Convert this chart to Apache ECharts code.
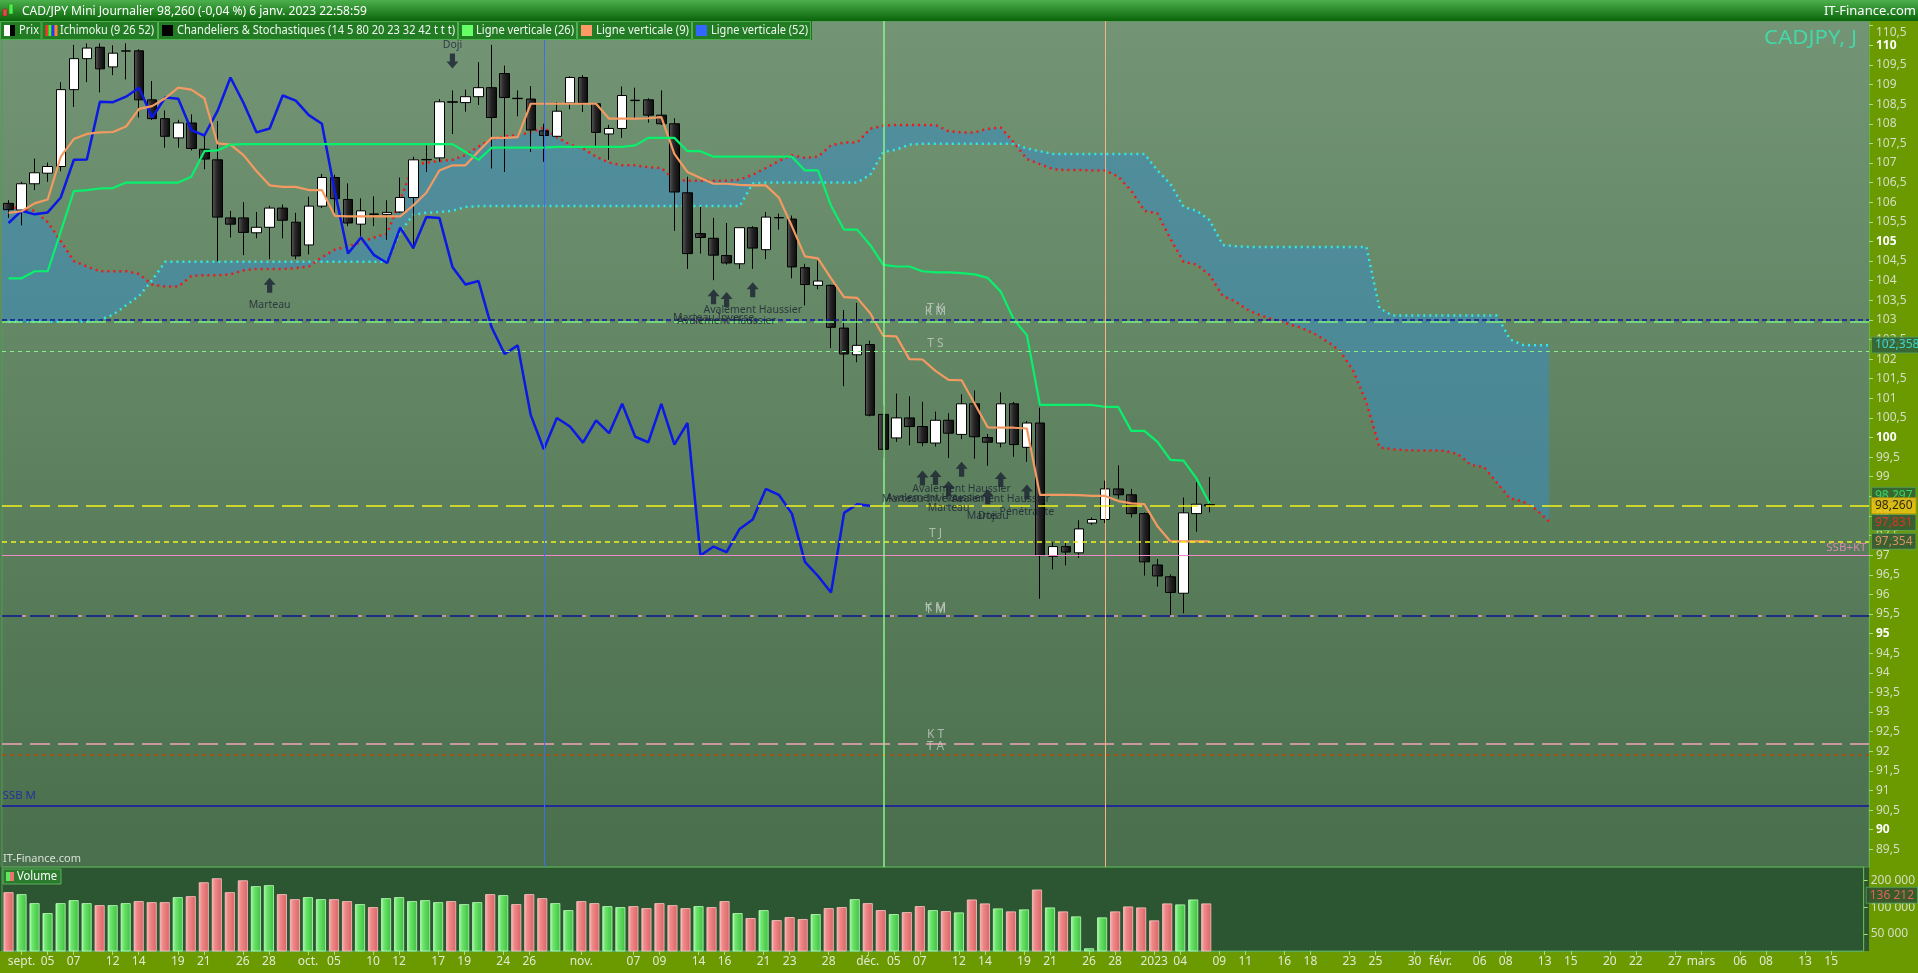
<!DOCTYPE html>
<html>
<head>
<meta charset="utf-8">
<title>CAD/JPY Mini Journalier</title>
<script src="https://cdn.jsdelivr.net/npm/echarts@6.0.0/dist/echarts.min.js"></script>
<style>
html,body{margin:0;padding:0;background:#6a9900;overflow:hidden;}
#chart{width:1918px;height:973px;}
</style>
</head>
<body>
<div id="chart"></div>
<script>
// ---------------- DATA ----------------
const opens = [105.97,105.80,106.47,106.74,106.91,108.87,109.66,109.95,109.45,109.85,
109.86,108.61,108.13,107.64,108.02,107.35,107.08,105.60,105.60,105.22,
105.36,105.85,105.49,104.91,105.90,106.63,106.07,105.44,105.70,105.69,
105.75,106.12,107.08,107.13,108.56,108.54,108.69,108.92,109.28,108.65,
108.63,107.82,107.68,108.53,109.18,108.51,107.74,107.88,108.60,108.61,
108.22,108.00,106.24,105.20,105.08,104.64,104.43,105.35,104.79,105.61,
105.57,104.33,103.88,103.88,102.79,102.11,102.37,100.59,99.99,100.50,
100.28,99.86,100.44,100.08,100.86,100.00,99.86,100.86,99.75,100.37,
96.97,97.22,97.06,97.82,97.91,98.69,98.54,98.06,96.75,96.45,
96.03,98.06,98.29];
const highs = [106.05,106.52,107.11,107.01,109.06,110.01,110.05,110.05,110.00,110.05,
109.90,109.09,108.34,108.10,108.24,107.71,108.07,105.78,106.00,105.75,
105.91,105.94,105.73,106.14,106.72,106.70,106.48,106.10,106.15,106.05,
106.63,107.16,107.45,108.63,108.85,108.87,109.57,110.01,109.48,108.85,
108.96,108.00,108.55,109.21,109.24,108.53,107.97,108.95,108.92,108.65,
108.85,108.14,106.65,105.88,105.60,105.47,105.36,105.39,105.75,105.71,
105.66,104.43,104.51,103.90,103.25,103.43,102.47,100.81,101.12,101.05,
100.91,100.66,100.62,101.10,101.20,100.09,101.15,100.91,100.42,100.76,
97.33,97.31,97.89,97.96,98.90,99.29,98.69,98.09,96.90,96.51,
98.47,98.86,98.99];
const lows = [105.60,105.41,106.31,106.52,106.79,108.43,109.06,108.80,109.24,109.13,
108.16,108.10,107.39,107.39,107.32,106.84,104.50,105.10,104.65,105.08,
104.55,105.08,104.55,104.67,105.85,105.65,105.39,105.13,105.39,105.04,
105.73,104.81,106.77,107.03,107.74,108.31,108.48,106.86,106.77,108.19,
107.28,107.03,107.66,108.37,108.30,107.44,107.08,107.64,108.13,108.03,
107.97,105.27,104.30,104.69,104.01,104.41,104.30,104.30,104.55,105.30,
104.06,103.37,103.78,102.28,101.31,101.92,100.54,99.48,99.89,99.80,
99.78,99.77,99.48,99.96,99.46,99.28,99.75,99.51,99.38,95.89,
96.64,96.74,96.93,97.77,97.82,98.44,97.96,96.48,96.20,95.45,
95.52,97.60,98.09];
const closes = [105.81,106.47,106.75,106.91,108.87,109.66,109.93,109.40,109.80,109.86,
108.61,108.13,107.68,108.02,107.37,107.10,105.62,105.44,105.23,105.36,
105.85,105.54,104.63,105.90,106.63,106.09,105.47,105.78,105.69,105.74,
106.12,107.08,107.09,108.56,108.55,108.69,108.92,108.16,108.67,108.64,
107.84,107.70,108.32,109.18,108.53,107.78,107.88,108.72,108.59,108.22,
108.00,106.26,104.69,105.10,104.65,104.45,105.35,104.83,105.62,105.60,
104.35,103.90,103.99,102.81,102.13,102.35,100.57,99.70,100.50,100.28,
99.87,100.44,100.11,100.86,100.02,99.88,100.86,99.82,100.37,96.99,
97.22,97.08,97.67,97.91,98.69,98.54,98.06,96.83,96.47,96.05,
98.08,98.30,98.26];
const volumes = [147600,140200,110900,85600,110900,119900,110900,105300,105300,110900,
116900,113800,113800,129700,133000,191000,212000,147600,201000,172600,
177000,140200,123000,129700,123000,123000,116900,108100,100000,126300,
129700,116900,119900,113800,116900,108100,113800,140200,136600,108100,
140200,126300,110900,92500,116900,110900,102600,100000,102600,97400,
110900,105300,97400,102600,100000,116900,85600,75200,92500,71300,
77100,73300,83400,97400,100000,123000,110900,92500,83400,87800,
102600,92500,90100,87100,121900,110000,96600,89400,94200,158000,
99100,89400,78500,34200,76500,89400,101700,99100,70800,110000,
107200,121900,110000];
// Ichimoku lines
const tenkan = [105.73,105.77,105.97,106.07,107.16,107.61,107.74,107.78,107.79,107.93,
108.38,108.45,108.65,108.92,108.87,108.65,107.50,107.47,107.20,106.79,
106.43,106.39,106.39,106.31,106.31,105.65,105.64,105.64,105.64,105.64,
105.64,105.92,106.24,106.81,106.94,106.94,107.30,107.64,107.64,107.66,
108.51,108.51,108.51,108.51,108.51,108.51,108.13,108.13,108.13,108.14,
108.17,107.23,106.77,106.62,106.47,106.47,106.44,106.43,106.43,106.12,
105.39,104.62,104.57,104.06,103.58,103.56,103.17,102.59,102.58,102.00,
101.99,101.70,101.47,101.46,100.86,100.26,100.25,100.25,100.23,98.54,
98.54,98.54,98.53,98.51,98.51,98.38,98.32,98.30,97.74,97.35,
97.35,97.35,97.35];
const kijun = [104.06,104.06,104.24,104.24,105.25,106.28,106.31,106.35,106.36,106.50,
106.50,106.50,106.50,106.50,106.65,107.30,107.32,107.47,107.48,107.48,
107.48,107.48,107.48,107.48,107.48,107.48,107.48,107.48,107.48,107.48,
107.48,107.48,107.48,107.48,107.48,107.28,107.08,107.39,107.39,107.39,
107.39,107.39,107.41,107.41,107.41,107.41,107.41,107.41,107.45,107.64,
107.64,107.64,107.30,107.30,107.16,107.16,107.16,107.16,107.16,107.16,
107.16,106.81,106.81,105.91,105.30,105.30,104.91,104.40,104.36,104.36,
104.24,104.21,104.21,104.19,104.16,104.07,103.72,103.01,102.61,100.83,
100.83,100.83,100.83,100.83,100.78,100.78,100.17,100.17,99.89,99.43,
99.41,98.95,98.32];
const chikou = [105.47,105.78,105.69,105.74,106.12,107.08,107.09,108.56,108.55,108.69,
108.92,108.16,108.67,108.64,107.84,107.70,108.32,109.18,108.53,107.78,
107.88,108.72,108.59,108.22,108.00,106.26,104.69,105.10,104.65,104.45,
105.35,104.83,105.62,105.60,104.35,103.90,103.99,102.81,102.13,102.35,
100.57,99.70,100.50,100.28,99.87,100.44,100.11,100.86,100.02,99.88,
100.86,99.82,100.37,96.99,97.22,97.08,97.67,97.91,98.69,98.54,
98.06,96.83,96.47,96.05,98.08,98.30,98.26];
const senkouA = [102.95,102.95,102.95,102.95,102.95,102.95,102.95,103.00,103.13,103.37,
103.61,104.01,104.48,104.48,104.48,104.48,104.48,104.48,104.48,104.48,
104.48,104.48,104.48,104.48,104.48,104.48,104.48,104.48,104.48,104.48,
105.25,105.68,105.73,105.75,105.78,105.88,105.90,105.90,105.90,105.90,
105.90,105.90,105.90,105.90,105.90,105.90,105.90,105.90,105.90,105.90,
105.90,105.90,105.90,105.90,105.90,105.90,105.90,106.48,106.50,106.50,
106.50,106.50,106.50,106.50,106.50,106.50,106.70,107.28,107.34,107.47,
107.49,107.49,107.49,107.49,107.49,107.49,107.49,107.49,107.37,107.30,
107.23,107.23,107.23,107.23,107.23,107.23,107.23,107.23,106.81,106.46,
105.88,105.78,105.54,104.91,104.88,104.86,104.86,104.86,104.86,104.86,
104.86,104.86,104.86,104.86,104.86,103.30,103.11,103.11,103.11,103.11,
103.11,103.11,103.11,103.11,103.11,102.50,102.36,102.35,102.35];
const senkouB = [105.87,105.85,105.78,105.49,105.01,104.50,104.36,104.24,104.24,104.24,
104.17,103.90,103.85,103.85,104.12,104.14,104.14,104.16,104.26,104.30,
104.30,104.30,104.32,104.36,104.60,104.79,104.88,104.98,105.10,105.20,
106.05,106.94,107.01,107.05,107.08,107.20,107.42,107.61,107.68,107.71,
107.78,107.90,107.66,107.47,107.37,107.16,107.01,106.94,106.94,106.89,
106.87,106.58,106.55,106.55,106.55,106.55,106.57,106.70,106.87,107.05,
107.20,107.13,107.16,107.45,107.52,107.52,107.87,107.95,107.97,107.97,
107.97,107.97,107.81,107.78,107.78,107.87,107.90,107.52,107.10,106.97,
106.84,106.82,106.82,106.81,106.81,106.65,106.29,105.78,105.71,105.06,
104.48,104.41,104.14,103.61,103.46,103.24,103.10,103.00,102.90,102.80,
102.65,102.45,102.20,101.70,100.90,99.75,99.70,99.68,99.67,99.67,
99.66,99.58,99.30,99.25,98.85,98.45,98.37,98.17,97.86];
// horizontal levels
const levelValues = [103.00,102.95,102.20,98.26,97.354,97.00,95.45,95.45,92.20,91.90,90.60];
const levelKinds  = ['navyDash','greenLong','greenFine','yellowLong','yellowFine','pinkSolid','pinkDots','navyLong','pinkLong','brownDot','navySolid'];
// vertical lines (Ligne verticale 52 / 26 / 9)
const vLineDates = ['2022-10-27','2022-12-02','2022-12-27'];
const vLineKinds = ['blue','green','orange'];
// level labels
const levelLabelText = ['T K','K M','T S','T J','K M','T M','K T','T A'];
const levelLabelY    = [103.30,103.22,102.39,97.56,95.67,95.62,92.42,92.13];
const levelLabelDate = '2022-12-08';
// price tags on the right axis
const tagValues = [102.358,98.297,97.831,97.354,98.260];
const tagTexts  = ['102,358','98,297','97,831','97,354','98,260'];
const volTagValue = 136212;
const volTagText = '136 212';
// candle pattern annotations
const patternDates = ['2022-09-28','2022-11-15','2022-11-16','2022-11-18','2022-12-07','2022-12-08','2022-12-09','2022-12-12','2022-12-14','2022-12-15','2022-12-19'];
const patternArrowY = [103.88,103.59,103.52,103.77,98.97,98.98,98.70,99.19,98.49,98.93,98.61];
const patternTextDates = ['2022-09-28','2022-11-15','2022-11-16','2022-11-18','2022-12-07','2022-12-08','2022-12-09','2022-12-12','2022-12-14','2022-12-14','2022-12-15','2022-12-19'];
const patternTexts = ['Marteau','Marteau Inverse','Avalement Haussier','Avalement Haussier','Marteau Inverse','Avalement Haussier','Marteau','Avalement Haussier','Marteau','Doji','Avalement Haussier','Pénétrante'];
const patternTextY = [103.38,103.05,102.96,103.24,98.42,98.47,98.20,98.70,98.01,98.01,98.44,98.11];
const dojiDate = '2022-10-18', dojiArrowY = 109.60, dojiTextY = 110.02;
// axis ticks
const yTicks = [89.5,90,90.5,91,91.5,92,92.5,93,93.5,94,94.5,95,95.5,96,96.5,97,97.5,98,98.5,99,99.5,100,100.5,101,101.5,102,102.5,103,103.5,104,104.5,105,105.5,106,106.5,107,107.5,108,108.5,109,109.5,110,110.5];
const volTicks = [50000,100000,200000];
const xTickLabels = [['2022-09-01','sept.'],['2022-09-05','05'],['2022-09-07','07'],['2022-09-12','12'],['2022-09-14','14'],['2022-09-19','19'],['2022-09-21','21'],['2022-09-26','26'],['2022-09-28','28'],
['2022-10-03','oct.'],['2022-10-05','05'],['2022-10-10','10'],['2022-10-12','12'],['2022-10-17','17'],['2022-10-19','19'],['2022-10-24','24'],['2022-10-26','26'],
['2022-11-01','nov.'],['2022-11-07','07'],['2022-11-09','09'],['2022-11-14','14'],['2022-11-16','16'],['2022-11-21','21'],['2022-11-23','23'],['2022-11-28','28'],
['2022-12-01','déc.'],['2022-12-05','05'],['2022-12-07','07'],['2022-12-12','12'],['2022-12-14','14'],['2022-12-19','19'],['2022-12-21','21'],['2022-12-26','26'],['2022-12-28','28'],
['2023-01-02','2023'],['2023-01-04','04'],['2023-01-09','09'],['2023-01-11','11'],['2023-01-16','16'],['2023-01-18','18'],['2023-01-23','23'],['2023-01-25','25'],['2023-01-30','30'],
['2023-02-01','févr.'],['2023-02-06','06'],['2023-02-08','08'],['2023-02-13','13'],['2023-02-15','15'],['2023-02-20','20'],['2023-02-22','22'],['2023-02-27','27'],
['2023-03-01','mars'],['2023-03-06','06'],['2023-03-08','08'],['2023-03-13','13'],['2023-03-15','15']];

// trading-day calendar (Mon-Fri) from 31 Aug 2022 to 17 Mar 2023
const categories = [];
(function(){
  let t = Date.UTC(2022,7,31); const end = Date.UTC(2023,2,17);
  while (t <= end) { const d = new Date(t); const wd = d.getUTCDay();
    if (wd !== 0 && wd !== 6) categories.push(d.toISOString().slice(0,10));
    t += 86400000; }
})();

// ---------------- CHART ----------------
const FONT = "'Noto Sans', 'DejaVu Sans', sans-serif";
const LG = echarts.graphic.LinearGradient;
const idx = d => categories.indexOf(d);
const lastIdx = categories.length - 1;
const labelMap = {}; xTickLabels.forEach(p => { labelMap[p[0]] = p[1]; });
const showTick = (i, v) => labelMap[v] !== undefined;

const downGrad = new LG(0,0,1,0,[{offset:0,color:'#5c5c5c'},{offset:0.45,color:'#262626'},{offset:1,color:'#0a0a0a'}]);
const greenGrad = new LG(0,0,1,0,[{offset:0,color:'#b0f8b0'},{offset:0.3,color:'#6be46b'},{offset:1,color:'#3fbf3f'}]);
const redGrad = new LG(0,0,1,0,[{offset:0,color:'#fbb8b8'},{offset:0.3,color:'#ef8a8a'},{offset:1,color:'#d96464'}]);

const candleData = opens.map((o,i) => [o, closes[i], lows[i], highs[i]]);
const volData = volumes.map((v,i) => {
  const up = i === 0 ? closes[0] >= opens[0] : closes[i] >= closes[i-1];
  return {value: Math.log10(v), itemStyle: {color: up ? greenGrad : redGrad, borderColor: up ? '#baffba' : '#ffc4c4', borderWidth: 0.8}};
});

const levelStyle = {
  navyDash:  {color:'#0b1a9c', width:1.5, type:[5,3]},
  greenLong: {color:'#7cf07c', width:1.5, type:[20,8]},
  greenFine: {color:'#88f088', width:1, type:[4,4]},
  yellowLong:{color:'#f2f21e', width:1.5, type:[20,8]},
  yellowFine:{color:'#f2f21e', width:1.5, type:[5,4]},
  pinkSolid: {color:'#f08ac4', width:1.2, type:'solid'},
  pinkDots:  {color:'#f29ab8', width:1.5, type:[4,24], dashOffset:8},
  navyLong:  {color:'#0a1890', width:1.5, type:[20,8]},
  pinkLong:  {color:'#f2a2b8', width:1.5, type:[20,8]},
  brownDot:  {color:'#b04c08', width:1.5, type:[4,4]},
  navySolid: {color:'#1414a8', width:1.5, type:'solid'}
};
const vStyle = {
  blue:  {color:'#3d6ef2', width:1, type:'solid'},
  green: {color:'#8af58a', width:1.5, type:'solid'},
  orange:{color:'#f5b284', width:1, type:'solid'}
};
const tagStyle = [
  {color:'#40f0f0', backgroundColor:'#2c5a40'},
  {color:'#30f070', backgroundColor:'#2c5a36', offset:[9.5,-9]},
  {color:'#ff2a2a', backgroundColor:'#30503a'},
  {color:'#ffa070', backgroundColor:'#30503a'},
  {color:'#000000', backgroundColor:'#f5c518', borderColor:'#c89a00'}
];

const levelLines = levelValues.map((v,i) => ({yAxis: v, lineStyle: levelStyle[levelKinds[i]], label:{show:false}}));
const vLines = vLineDates.map((d,i) => ({xAxis: idx(d), lineStyle: vStyle[vLineKinds[i]], label:{show:false}}));
const tagPoints = tagValues.map((v,i) => ({
  value: [lastIdx, v],
  label: Object.assign({show:true, position:'inside', align:'left', verticalAlign:'middle', offset:[9.5,0],
    formatter: tagTexts[i], fontSize:12, fontFamily:FONT, borderColor:'#5aa05a', borderWidth:1, padding:[2,3,1,3]}, tagStyle[i])
}));

// text helpers for graphic layer
const mctx = document.createElement('canvas').getContext('2d');
function fitText(x, y, txt, targetW, size, color, weight) {
  const font = (weight || 'normal') + ' ' + size + 'px ' + FONT;
  mctx.font = font;
  const w = mctx.measureText(txt).width || targetW;
  return {type:'text', x:x, y:y, z:102, scaleX: targetW / w, silent:true,
    style:{text:txt, fill:color, font:font, verticalAlign:'middle', textVerticalAlign:'middle'}};
}

const graphics = [];
// backgrounds
graphics.push({type:'rect', z:-10, silent:true, shape:{x:0,y:21,width:1869,height:846},
  style:{fill: new LG(0,0,0,1,[{offset:0,color:'#739575'},{offset:1,color:'#4a6f4c'}])}});
graphics.push({type:'rect', z:-10, silent:true, shape:{x:0,y:867,width:1869,height:84}, style:{fill:'#2c5631'}});
// header
graphics.push({type:'rect', z:100, silent:true, shape:{x:0,y:0,width:1918,height:21},
  style:{fill: new LG(0,0,0,1,[{offset:0,color:'#4cb04c'},{offset:1,color:'#0a640a'}])}});
graphics.push({type:'rect', z:101, shape:{x:3,y:9,width:4,height:7}, style:{fill:'#e84848', stroke:'#802020', lineWidth:0.5}});
graphics.push({type:'rect', z:101, shape:{x:9,y:4,width:4,height:10}, style:{fill:'#48f048', stroke:'#208020', lineWidth:0.5}});
graphics.push(fitText(22, 11, 'CAD/JPY Mini Journalier 98,260 (-0,04 %) 6 janv. 2023 22:58:59', 345, 13, '#ffffff'));
graphics.push({type:'text', z:102, x:1916, y:11, style:{text:'IT-Finance.com', fill:'#ffffff', font:'13px ' + FONT, align:'right', verticalAlign:'middle'}});
// legend row
const legendItems = [
  {x0:0, x1:41.5, icon:'prix', text:'Prix', tx:19, tw:20},
  {x0:41.5, x1:158, icon:'ichi', text:'Ichimoku (9 26 52)', tx:60, tw:94},
  {x0:158, x1:458, icon:'#000000', text:'Chandeliers & Stochastiques (14 5 80 20 23 32 42 t t t)', tx:177, tw:278},
  {x0:458, x1:577, icon:'#66ff66', text:'Ligne verticale (26)', tx:476, tw:98},
  {x0:577, x1:692, icon:'#ff9966', text:'Ligne verticale (9)', tx:596, tw:93},
  {x0:692, x1:811, icon:'#3366ff', text:'Ligne verticale (52)', tx:711, tw:97}
];
graphics.push({type:'rect', z:100, silent:true, shape:{x:0,y:21,width:812,height:19}, style:{fill:'#1d761f'}});
legendItems.forEach(it => {
  graphics.push({type:'rect', z:100.5, silent:true, shape:{x:it.x0+0.5,y:21.5,width:it.x1-it.x0-1,height:18}, style:{fill:'#217c23', stroke:'#4fae4f', lineWidth:1}});
  const ix = it.x0 + 4;
  if (it.icon === 'prix') {
    graphics.push({type:'rect', z:101, shape:{x:ix,y:25,width:6,height:11}, style:{fill:'#ffffff'}});
    graphics.push({type:'rect', z:101, shape:{x:ix+6,y:25,width:5,height:11}, style:{fill:'#000000'}});
  } else if (it.icon === 'ichi') {
    ['#ff3030','#30ff30','#3030ff','#ff8040'].forEach((c,k) => {
      graphics.push({type:'rect', z:101, shape:{x:ix+k*3,y:25,width:3,height:11}, style:{fill:c}});
    });
  } else {
    graphics.push({type:'rect', z:101, shape:{x:ix,y:25,width:11,height:11}, style:{fill:it.icon}});
  }
  graphics.push(fitText(it.tx, 31, it.text, it.tw, 12, '#f2f6f2'));
});
// symbol name
graphics.push(fitText(1764, 38, 'CADJPY, J', 93, 20, '#43d8a9'));
// watermark
graphics.push({type:'text', z:102, x:3, y:859, silent:true, style:{text:'IT-Finance.com', fill:'#d8e0d8', font:'11px ' + FONT, verticalAlign:'middle'}});
// volume legend
graphics.push({type:'rect', z:100, shape:{x:3,y:869,width:58,height:15}, style:{fill:'#2b7a2e', stroke:'#5cb05c', lineWidth:1}});
graphics.push({type:'rect', z:101, shape:{x:6,y:872,width:4,height:9}, style:{fill:'#5ee85e'}});
graphics.push({type:'rect', z:101, shape:{x:10,y:872,width:4,height:9}, style:{fill:'#ee7070'}});
graphics.push(fitText(17, 876.5, 'Volume', 40, 12, '#ffffff'));

const arrowUp = 'path://M6,0L12,7L8.6,7L8.6,15L3.4,15L3.4,7L0,7Z';

const option = {
  animation: false,
  backgroundColor: '#6a9900',
  textStyle: {fontFamily: FONT},
  graphic: graphics,
  grid: [
    {left:2, right:49, top:21, height:846, show:true, borderColor:'#4f9f4f', borderWidth:1, backgroundColor:'transparent'},
    {left:2, right:49, top:867, height:84, show:true, borderColor:'#56a856', borderWidth:1, backgroundColor:'transparent'}
  ],
  xAxis: [
    {type:'category', gridIndex:0, data:categories, boundaryGap:true,
     axisLine:{show:false}, axisTick:{show:false}, axisLabel:{show:false}, splitLine:{show:false}},
    {type:'category', gridIndex:1, data:categories, boundaryGap:true,
     axisLine:{show:true, lineStyle:{color:'#5cae5c'}},
     axisTick:{show:true, alignWithLabel:true, interval:showTick, length:4, lineStyle:{color:'#a8d888'}},
     axisLabel:{interval:showTick, formatter: v => labelMap[v] || '', color:'#e2ead2', fontSize:12, margin:5, fontFamily:FONT},
     splitLine:{show:false}}
  ],
  yAxis: [
    {type:'value', gridIndex:0, position:'right', min:89.05, max:110.62, scale:true, splitLine:{show:false},
     axisLine:{show:true, lineStyle:{color:'#6cb04c'}},
     axisTick:{show:true, customValues:yTicks, length:4, lineStyle:{color:'#a8e080'}},
     axisLabel:{customValues:yTicks, margin:7, align:'left',
       formatter: v => { const s = String(v).replace('.', ',');
         if (v === 110.5) return '{t|' + s + '}';
         return (v % 5 === 0) ? '{b|' + s + '}' : '{a|' + s + '}'; },
       rich:{a:{color:'#d6dfc6', fontSize:12, fontFamily:FONT},
             b:{color:'#ffffff', fontSize:12, fontWeight:'bold', fontFamily:FONT},
             t:{color:'#d6dfc6', fontSize:12, fontFamily:FONT, padding:[13,0,0,0]}}}},
    {type:'value', gridIndex:1, position:'right', min:Math.log10(31900), max:Math.log10(284600), scale:true, splitLine:{show:false},
     axisLine:{show:true, lineStyle:{color:'#6cb04c'}},
     axisTick:{show:true, customValues:volTicks.map(v => Math.log10(v)), length:4, lineStyle:{color:'#a8e080'}},
     axisLabel:{customValues:volTicks.map(v => Math.log10(v)), margin:7, align:'left', color:'#d6dfc6', fontSize:12,
       formatter: v => String(Math.round(Math.pow(10, v))).replace(/\B(?=(\d{3})+(?!\d))/g, ' ')}}
  ],
  series: [
    {type:'custom', name:'Nuage', xAxisIndex:0, yAxisIndex:0, z:1, silent:true,
     data:[[0, senkouA[0]]],
     renderItem: (params, api) => {
       const pts = [];
       const x0 = params.coordSys.x;
       pts.push([x0, api.coord([0, senkouA[0]])[1]]);
       for (let i = 0; i < senkouA.length; i++) pts.push(api.coord([i, senkouA[i]]));
       for (let i = senkouB.length - 1; i >= 0; i--) pts.push(api.coord([i, senkouB[i]]));
       pts.push([x0, api.coord([0, senkouB[0]])[1]]);
       return {type:'polygon', shape:{points:pts}, style:{fill:'rgba(58,140,192,0.55)'}};
     }},
    {type:'line', name:'SSA', xAxisIndex:0, yAxisIndex:0, z:2, data:senkouA, symbol:'none', silent:true,
     lineStyle:{color:'#30e8ea', width:2.5, type:[2,4]},
     markLine:{silent:true, symbol:['none','none'], label:{show:false}, data: levelLines.concat(vLines)}},
    {type:'line', name:'SSB', xAxisIndex:0, yAxisIndex:0, z:2, data:senkouB, symbol:'none', silent:true,
     lineStyle:{color:'#f01818', width:2.5, type:[2,4]}},
    {type:'candlestick', name:'Prix', xAxisIndex:0, yAxisIndex:0, z:3, data:candleData, barWidth:10,
     itemStyle:{color:'#ffffff', color0:downGrad, borderColor:'#000000', borderColor0:'#000000', borderWidth:1}},
    {type:'line', name:'Chikou', xAxisIndex:0, yAxisIndex:0, z:4, data:chikou, symbol:'none', silent:true,
     lineStyle:{color:'#0b18e6', width:2.5}},
    {type:'line', name:'Tenkan', xAxisIndex:0, yAxisIndex:0, z:4, data:tenkan, symbol:'none', silent:true,
     lineStyle:{color:'#f39a62', width:2.2}},
    {type:'line', name:'Kijun', xAxisIndex:0, yAxisIndex:0, z:4, data:kijun, symbol:'none', silent:true,
     lineStyle:{color:'#08f06c', width:2.2}},
    {type:'scatter', name:'arrows', xAxisIndex:0, yAxisIndex:0, z:5, silent:true,
     symbol:arrowUp, symbolSize:[12,15], itemStyle:{color:'#1b2232'},
     data: patternDates.map((d,i) => [idx(d), patternArrowY[i]])},
    {type:'scatter', name:'arrowDown', xAxisIndex:0, yAxisIndex:0, z:5, silent:true,
     symbol:arrowUp, symbolRotate:180, symbolSize:[12,15], itemStyle:{color:'#1b2232'},
     data: [[idx(dojiDate), dojiArrowY]]},
    {type:'scatter', name:'patternText', xAxisIndex:0, yAxisIndex:0, z:5, silent:true,
     symbolSize:1, itemStyle:{color:'rgba(0,0,0,0)'},
     label:{show:true, position:'inside', formatter: p => p.data[2], color:'#1b2232', fontSize:10.5, fontFamily:FONT},
     data: patternTextDates.map((d,i) => [idx(d), patternTextY[i], patternTexts[i]]).concat([[idx(dojiDate), dojiTextY, 'Doji']])},
    {type:'scatter', name:'levelText', xAxisIndex:0, yAxisIndex:0, z:5, silent:true,
     symbolSize:1, itemStyle:{color:'rgba(0,0,0,0)'},
     label:{show:true, position:'inside', formatter: p => p.data[2], color:'#c4ccc4', fontSize:12, fontFamily:FONT},
     data: levelLabelText.map((t,i) => [idx(levelLabelDate), levelLabelY[i], t])},
    {type:'scatter', name:'sideText', xAxisIndex:0, yAxisIndex:0, z:5, silent:true,
     symbolSize:1, itemStyle:{color:'rgba(0,0,0,0)'},
     data: [
       {value:[lastIdx, 97.20], label:{show:true, position:'inside', align:'right', offset:[4,0], formatter:'SSB+KT', color:'#f28ac4', fontSize:11.5}},
       {value:[0, 90.86], label:{show:true, position:'inside', align:'left', offset:[-6,0], formatter:'SSB M', color:'#1a22b0', fontSize:11.5}}
     ]},
    {type:'scatter', name:'tags', xAxisIndex:0, yAxisIndex:0, z:6, silent:true,
     symbolSize:1, itemStyle:{color:'rgba(0,0,0,0)'}, data: tagPoints},
    {type:'bar', name:'Volume', xAxisIndex:1, yAxisIndex:1, z:2, data:volData, barWidth:10},
    {type:'scatter', name:'volTag', xAxisIndex:1, yAxisIndex:1, z:6, silent:true,
     symbolSize:1, itemStyle:{color:'rgba(0,0,0,0)'},
     data:[{value:[lastIdx, Math.log10(volTagValue)],
       label:{show:true, position:'inside', align:'left', verticalAlign:'middle', offset:[9.5,0], formatter: volTagText,
         color:'#ff6a6a', backgroundColor:'#2e4a33', borderColor:'#5aa05a', borderWidth:1, padding:[2,3,1,3], fontSize:12, fontFamily:FONT}}]}
  ]
};

const chart = echarts.init(document.getElementById('chart'), null, {renderer:'canvas', width:1918, height:973});
chart.setOption(option);
</script>
</body>
</html>
